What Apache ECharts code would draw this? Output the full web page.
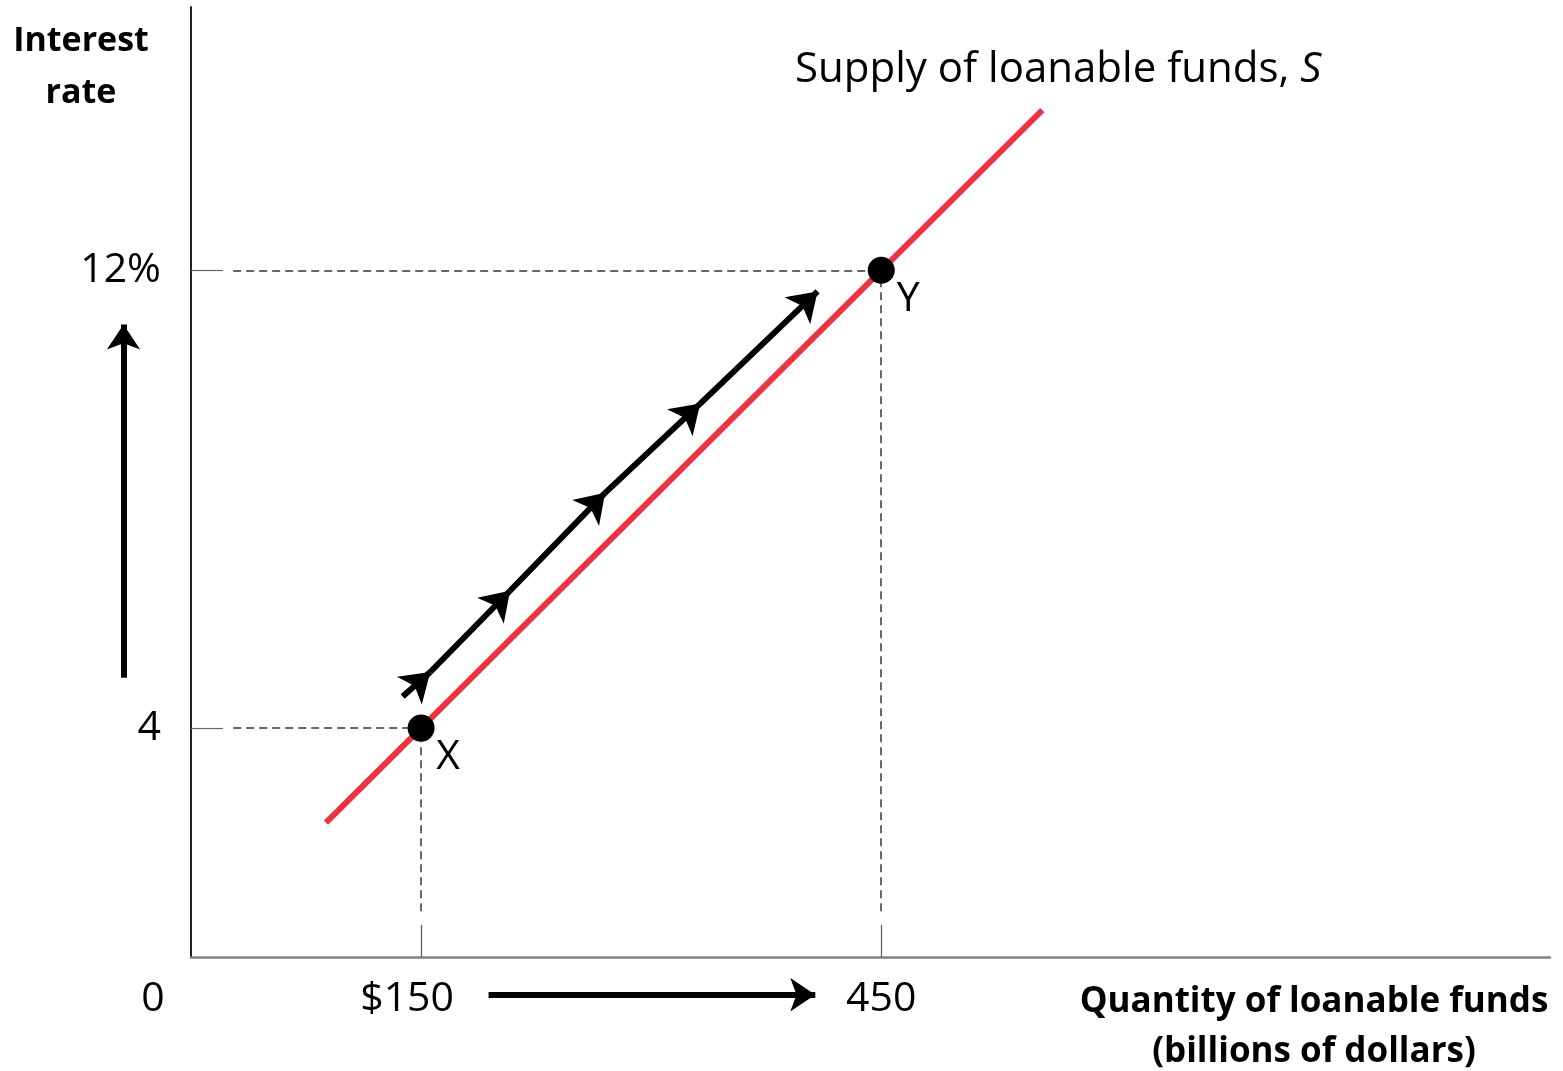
<!DOCTYPE html>
<html>
<head>
<meta charset="utf-8">
<script src="https://cdn.jsdelivr.net/npm/echarts@6/dist/echarts.min.js"></script>
<style>
  html, body { margin: 0; padding: 0; background: #ffffff; }
  #chart { width: 1563px; height: 1071px; }
</style>
</head>
<body>
<div id="chart"></div>
<script>
// Loanable funds market: movement along the supply curve from X to Y
const quantityTicks = [0, 150, 450];
const quantityTickLabels = ['0', '$150', '450'];
const rateTicks = [4, 12];
const rateTickLabels = ['4', '12%'];

// Supply of loanable funds, S (quantity in billions, interest rate in %)
const supplyQuantity = [88, 555];
const supplyRate = [2.35, 14.8];

// Marked points on the supply curve
const pointNames = ['X', 'Y'];
const pointQuantity = [150, 450];
const pointRate = [4, 12];

// Chain of arrows running alongside the curve (quantity, rate)
const movementQuantity = [138, 156, 208, 270, 332, 408.5];
const movementRate = [4.55, 4.98, 6.4, 8.11, 9.67, 11.63];

// Direction arrows next to the axes
const rateArrowQuantity = [-44, -44];
const rateArrowRate = [4.88, 11.05];
const quantityArrowQuantity = [194, 407];
const quantityArrowRate = [-0.66, -0.66];

const FONT = '"Open Sans", Lato, sans-serif';
const RED = '#ec3340';
const GUIDE = '#34343f';

const chart = echarts.init(document.getElementById('chart'), null, { renderer: 'canvas' });

const supplyData = supplyQuantity.map((q, i) => [q, supplyRate[i]]);
const pointData = pointNames.map((n, i) => ({ name: n, value: [pointQuantity[i], pointRate[i]] }));

const movementSegments = [];
for (let i = 1; i < movementQuantity.length; i++) {
  movementSegments.push({
    coords: [[movementQuantity[i - 1], movementRate[i - 1]], [movementQuantity[i], movementRate[i]]]
  });
}

// Dashed guides from each axis to the marked points
const guideFromQ = 27.5;   // where horizontal guides start, past the tick
const guideFromR = 0.8;    // where vertical guides stop, above the tick
const guideSegments = [];
pointQuantity.forEach((q, i) => {
  guideSegments.push({ coords: [[guideFromQ, pointRate[i]], [q, pointRate[i]]] });
  guideSegments.push({ coords: [[q, guideFromR], [q, pointRate[i]]] });
});

const xLabelMap = {};
quantityTicks.forEach((v, i) => { xLabelMap[v] = quantityTickLabels[i]; });
const yLabelMap = {};
rateTicks.forEach((v, i) => { yLabelMap[v] = rateTickLabels[i]; });

const option = {
  animation: false,
  backgroundColor: '#ffffff',
  grid: { left: 191, right: 13, top: 7, bottom: 114, containLabel: false },
  xAxis: {
    type: 'value',
    min: 0,
    max: 886,
    interval: 150,
    splitLine: { show: false },
    axisLine: { show: true, lineStyle: { color: '#808080', width: 2.5 } },
    axisTick: {
      show: true,
      inside: true,
      length: 32,
      customValues: [150, 450],
      lineStyle: { color: '#555555', width: 1.2 }
    },
    axisLabel: {
      show: true,
      customValues: quantityTicks,
      margin: 21,
      color: '#000000',
      fontFamily: FONT,
      fontSize: 41,
      lineHeight: 42,
      formatter: function (v) {
        const t = xLabelMap[v];
        if (v === 0) return '{zero|' + t + '}';
        if (v === 150) return '{low|' + t + '}';
        return t;
      },
      rich: {
        zero: { fontFamily: FONT, fontSize: 41, lineHeight: 42, color: '#000', padding: [0, 76, 0, 0] },
        low: { fontFamily: FONT, fontSize: 41, lineHeight: 42, color: '#000', padding: [0, 28, 0, 0] }
      }
    }
  },
  yAxis: {
    type: 'value',
    min: 0,
    max: 16.6,
    interval: 4,
    splitLine: { show: false },
    axisLine: { show: true, lineStyle: { color: '#222222', width: 2 } },
    axisTick: {
      show: true,
      inside: true,
      length: 32,
      customValues: rateTicks,
      lineStyle: { color: '#666666', width: 1.2 }
    },
    axisLabel: {
      show: true,
      customValues: rateTicks,
      margin: 30,
      color: '#000000',
      fontFamily: FONT,
      fontSize: 41,
      formatter: function (v) { return yLabelMap[v] || ''; }
    }
  },
  series: [
    {
      name: 'Supply of loanable funds',
      type: 'line',
      data: supplyData,
      symbol: 'none',
      silent: true,
      lineStyle: { color: RED, width: 6, cap: 'butt' },
      z: 3
    },
    {
      name: 'guides',
      type: 'lines',
      coordinateSystem: 'cartesian2d',
      data: guideSegments,
      symbol: 'none',
      silent: true,
      lineStyle: { color: GUIDE, width: 1.5, type: [8, 5], opacity: 1 },
      z: 2
    },
    {
      name: 'movement',
      type: 'lines',
      coordinateSystem: 'cartesian2d',
      data: movementSegments,
      symbol: ['none', 'arrow'],
      symbolSize: 28,
      silent: true,
      lineStyle: { color: '#000000', width: 6, opacity: 1 },
      z: 4
    },
    {
      name: 'rate rises',
      type: 'lines',
      coordinateSystem: 'cartesian2d',
      clip: false,
      data: [{ coords: [[rateArrowQuantity[0], rateArrowRate[0]], [rateArrowQuantity[1], rateArrowRate[1]]] }],
      symbol: ['none', 'arrow'],
      symbolSize: 25,
      silent: true,
      lineStyle: { color: '#000000', width: 6, opacity: 1 },
      z: 4
    },
    {
      name: 'quantity rises',
      type: 'lines',
      coordinateSystem: 'cartesian2d',
      clip: false,
      data: [{ coords: [[quantityArrowQuantity[0], quantityArrowRate[0]], [quantityArrowQuantity[1], quantityArrowRate[1]]] }],
      symbol: ['none', 'arrow'],
      symbolSize: 25,
      silent: true,
      lineStyle: { color: '#000000', width: 6, opacity: 1 },
      z: 4
    },
    {
      name: 'points',
      type: 'scatter',
      data: pointData,
      symbol: 'circle',
      symbolSize: 27,
      silent: true,
      itemStyle: { color: '#000000', opacity: 1 },
      label: {
        show: true,
        position: 'inside',
        offset: [27, 29],
        formatter: '{b}',
        color: '#000000',
        fontFamily: FONT,
        fontSize: 41
      },
      z: 5
    }
  ],
  graphic: [
    {
      type: 'text',
      x: 81,
      y: 67,
      style: {
        text: 'Interest\nrate',
        fill: '#000000',
        font: 'bold 34px ' + FONT,
        lineHeight: 52,
        align: 'center',
        verticalAlign: 'middle'
      }
    },
    {
      type: 'text',
      x: 1314,
      y: 1027,
      style: {
        text: 'Quantity of loanable funds\n(billions of dollars)',
        fill: '#000000',
        font: 'bold 35px ' + FONT,
        lineHeight: 50,
        align: 'center',
        verticalAlign: 'middle'
      }
    },
    {
      type: 'text',
      x: 795,
      y: 70,
      style: {
        text: '{a|Supply of loanable funds, }{b|S}',
        align: 'left',
        verticalAlign: 'middle',
        rich: {
          a: { font: '42px ' + FONT, fill: '#000000' },
          b: { font: 'italic 42px ' + FONT, fill: '#000000' }
        }
      }
    }
  ]
};

chart.setOption(option);
</script>
</body>
</html>
